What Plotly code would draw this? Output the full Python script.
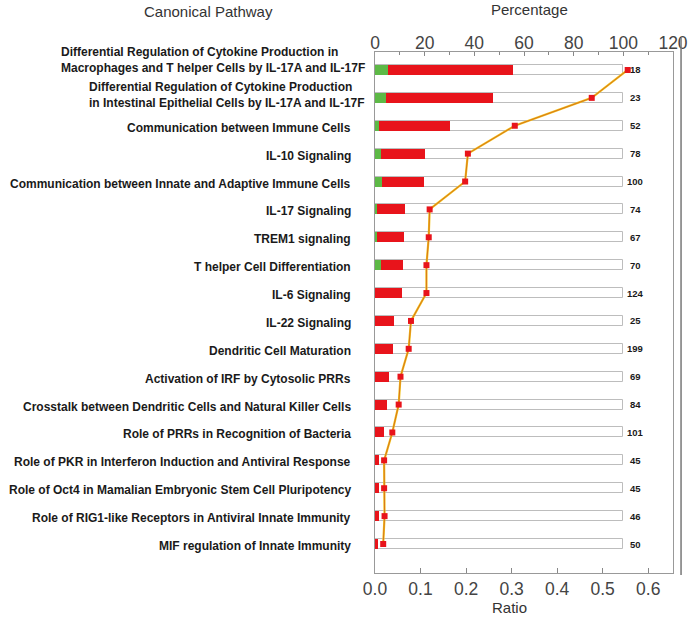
import plotly.graph_objects as go

pathways = [
    "Differential Regulation of Cytokine Production in<br>Macrophages and T helper Cells by IL-17A and IL-17F",
    "Differential Regulation of Cytokine Production<br>in Intestinal Epithelial Cells by IL-17A and IL-17F",
    "Communication between Immune Cells",
    "IL-10 Signaling",
    "Communication between Innate and Adaptive Immune Cells",
    "IL-17 Signaling",
    "TREM1 signaling",
    "T helper Cell Differentiation",
    "IL-6 Signaling",
    "IL-22 Signaling",
    "Dendritic Cell Maturation",
    "Activation of IRF by Cytosolic PRRs",
    "Crosstalk between Dendritic Cells and Natural Killer Cells",
    "Role of PRRs in Recognition of Bacteria",
    "Role of PKR in Interferon Induction and Antiviral Response",
    "Role of Oct4 in Mamalian Embryonic Stem Cell Pluripotency",
    "Role of RIG1-like Receptors in Antiviral Innate Immunity",
    "MIF regulation of Innate Immunity",
]
totals = [18, 23, 52, 78, 100, 74, 67, 70, 124, 25, 199, 69, 84, 101, 45, 45, 46, 50]
up_pct = [5.3, 4.3, 1.6, 2.4, 2.7, 0.8, 0.9, 2.5, 0, 0, 0, 0, 0, 0, 0, 0, 0, 0]
down_pct = [50.3, 43.4, 28.8, 17.7, 17.0, 11.1, 10.7, 8.7, 10.7, 7.6, 7.3, 5.6, 4.7, 3.6, 1.8, 1.8, 1.8, 1.4]
ratio = [0.555, 0.476, 0.307, 0.204, 0.198, 0.120, 0.118, 0.113, 0.113, 0.079, 0.074,
         0.056, 0.052, 0.038, 0.020, 0.020, 0.021, 0.018]
pct_ticks = [0, 20, 40, 60, 80, 100, 120]
ratio_ticks = [0.0, 0.1, 0.2, 0.3, 0.4, 0.5, 0.6]

rows = list(range(len(pathways)))
bar_w = 0.36

fig = go.Figure()
# background 100% bars
fig.add_trace(go.Bar(
    y=rows, x=[100] * len(rows), base=0, orientation="h", width=bar_w,
    marker=dict(color="white", line=dict(color="#BDBDBD", width=1)),
    xaxis="x", yaxis="y", showlegend=False, hoverinfo="skip"))
fig.add_trace(go.Bar(
    y=rows, x=up_pct, base=0, orientation="h", width=bar_w,
    marker=dict(color="#5DB946", line=dict(width=0)),
    xaxis="x", yaxis="y", showlegend=False))
fig.add_trace(go.Bar(
    y=rows, x=down_pct, base=up_pct, orientation="h", width=bar_w,
    marker=dict(color="#E8141B", line=dict(width=0)),
    xaxis="x", yaxis="y", showlegend=False))
# ratio line
fig.add_trace(go.Scatter(
    x=ratio, y=rows, mode="lines", line=dict(color="#F2C21B", width=2.2),
    xaxis="x2", yaxis="y", showlegend=False, hoverinfo="skip"))
fig.add_trace(go.Scatter(
    x=ratio, y=rows, mode="lines+markers",
    line=dict(color="#D9761C", width=1),
    marker=dict(symbol="square", size=6, color="#E8141B", line=dict(width=0)),
    xaxis="x2", yaxis="y", showlegend=False))

annotations = []
label_font = dict(family="Liberation Sans, Arial, sans-serif", size=12, color="#1a1a1a")
for i, name in enumerate(pathways):
    multi = "<br>" in name
    annotations.append(dict(
        text="<b>" + name + "</b>", xref="paper", yref="y", x=0, y=i,
        xanchor="right", yanchor="middle", align="left",
        xshift=-8 if multi else -22,
        yshift=(10 if i == 0 else 3) if multi else -2,
        showarrow=False, font=label_font))
    annotations.append(dict(
        text="<b>" + str(totals[i]) + "</b>", xref="x", yref="y", x=104.8, y=i,
        xanchor="center", yanchor="middle", showarrow=False,
        font=dict(family="Liberation Sans, Arial, sans-serif", size=9.5, color="#1a1a1a")))

title_font = dict(family="Liberation Sans, Arial, sans-serif", size=15, color="#333333")
annotations += [
    dict(text="Canonical Pathway", xref="paper", yref="paper", x=-0.56, y=1.077,
         xanchor="center", yanchor="middle", showarrow=False, font=title_font),
    dict(text="Percentage", xref="paper", yref="paper", x=0.517, y=1.081,
         xanchor="center", yanchor="middle", showarrow=False, font=title_font),
    dict(text="Ratio", xref="paper", yref="paper", x=0.45, y=-0.067,
         xanchor="center", yanchor="middle", showarrow=False, font=title_font),
]

tick_font = dict(family="Liberation Sans, Arial, sans-serif", size=17.5, color="#444444")
fig.update_layout(
    width=700, height=623, autosize=False,
    margin=dict(l=375, r=25, t=52, b=50),
    paper_bgcolor="white", plot_bgcolor="white",
    barmode="overlay", bargap=0,
    xaxis=dict(range=[0, 120], side="top", tickvals=pct_ticks,
               showline=True, linecolor="#999999", linewidth=1.2,
               ticks="inside", ticklen=4, tickcolor="#888888",
               ticklabelstandoff=-5,
               minor=dict(dtick=10, ticks="inside", ticklen=3, tickcolor="#888888"),
               showgrid=False, zeroline=False, tickfont=tick_font, fixedrange=True),
    xaxis2=dict(range=[0, 0.6545], side="bottom", overlaying="x", anchor="y",
                tickvals=ratio_ticks, tickformat=".1f",
                showline=True, linecolor="#999999", linewidth=1.2,
                ticks="inside", ticklen=5, tickcolor="#888888",
                showgrid=False, zeroline=False, tickfont=tick_font),
    yaxis=dict(range=[18.04, -0.645], showticklabels=False, showgrid=False,
               zeroline=False, showline=True, mirror=True,
               linecolor="#999999", linewidth=1.2, ticks=""),
    annotations=annotations,
    shapes=[dict(type="line", xref="paper", yref="paper",
                 x0=1.027, x1=1.027, y0=-0.004, y1=1.027,
                 line=dict(color="#777777", width=1.5))],
)

fig.write_html("out.html", config={"displayModeBar": False},
               post_script="document.body.style.margin='0';")
